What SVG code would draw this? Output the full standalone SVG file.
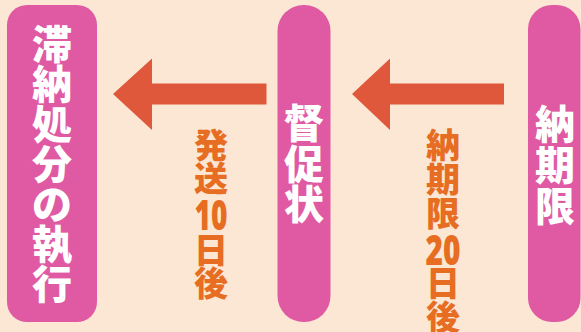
<svg xmlns="http://www.w3.org/2000/svg" width="581" height="332" viewBox="0 0 581 332">
<style>
.box{fill:#e05aa3}
.arrow{fill:#e0583b}
.w{fill:#ffffff;font-family:"Noto Sans CJK JP","Noto Sans",sans-serif;font-weight:900;font-size:40px;text-anchor:middle;dominant-baseline:central}
.o{fill:#e66d22;font-family:"Noto Sans CJK JP","Noto Sans",sans-serif;font-weight:900;font-size:34px;text-anchor:middle;dominant-baseline:central}
.d{font-family:"Noto Sans","Noto Sans CJK JP",sans-serif;font-size:42px}
</style>
<rect width="581" height="332" fill="#fbe7d3"/>
<g id="connectors">
<polygon class="arrow" points="113,94 152,58.5 152,83.5 266.5,83.5 266.5,104.5 152,104.5 152,130"/>
<polygon class="arrow" points="352,94 390,58.5 390,83.5 504,83.5 504,104.5 390,104.5 390,130"/>
<text id="label1" class="o"><tspan x="211" y="143">発</tspan><tspan x="211" y="176">送</tspan><tspan class="d" x="211" y="213" textLength="33" lengthAdjust="spacingAndGlyphs">10</tspan><tspan x="211" y="248">日</tspan><tspan x="211" y="281">後</tspan></text>
<text id="label2" class="o"><tspan x="443" y="142.5">納</tspan><tspan x="443" y="177">期</tspan><tspan x="443" y="211">限</tspan><tspan class="d" x="443" y="247.5" textLength="35" lengthAdjust="spacingAndGlyphs">20</tspan><tspan x="443" y="281">日</tspan><tspan x="443" y="315">後</tspan></text>
</g>
<g id="node-execution">
<rect class="box" x="7" y="5" width="90" height="317" rx="20"/>
<text class="w"><tspan x="52" y="42">滞</tspan><tspan x="52" y="82">納</tspan><tspan x="52" y="122">処</tspan><tspan x="52" y="162">分</tspan><tspan x="52" y="202">の</tspan><tspan x="52" y="242">執</tspan><tspan x="52" y="282">行</tspan></text>
</g>
<g id="node-tokusoku">
<rect class="box" x="277.5" y="5" width="53" height="317" rx="26"/>
<text class="w"><tspan x="304" y="121">督</tspan><tspan x="304" y="162">促</tspan><tspan x="304" y="202">状</tspan></text>
</g>
<g id="node-nouki">
<rect class="box" x="528" y="5" width="52.5" height="317" rx="24"/>
<text class="w"><tspan x="555" y="122">納</tspan><tspan x="555" y="163">期</tspan><tspan x="555" y="204">限</tspan></text>
</g>
</svg>
